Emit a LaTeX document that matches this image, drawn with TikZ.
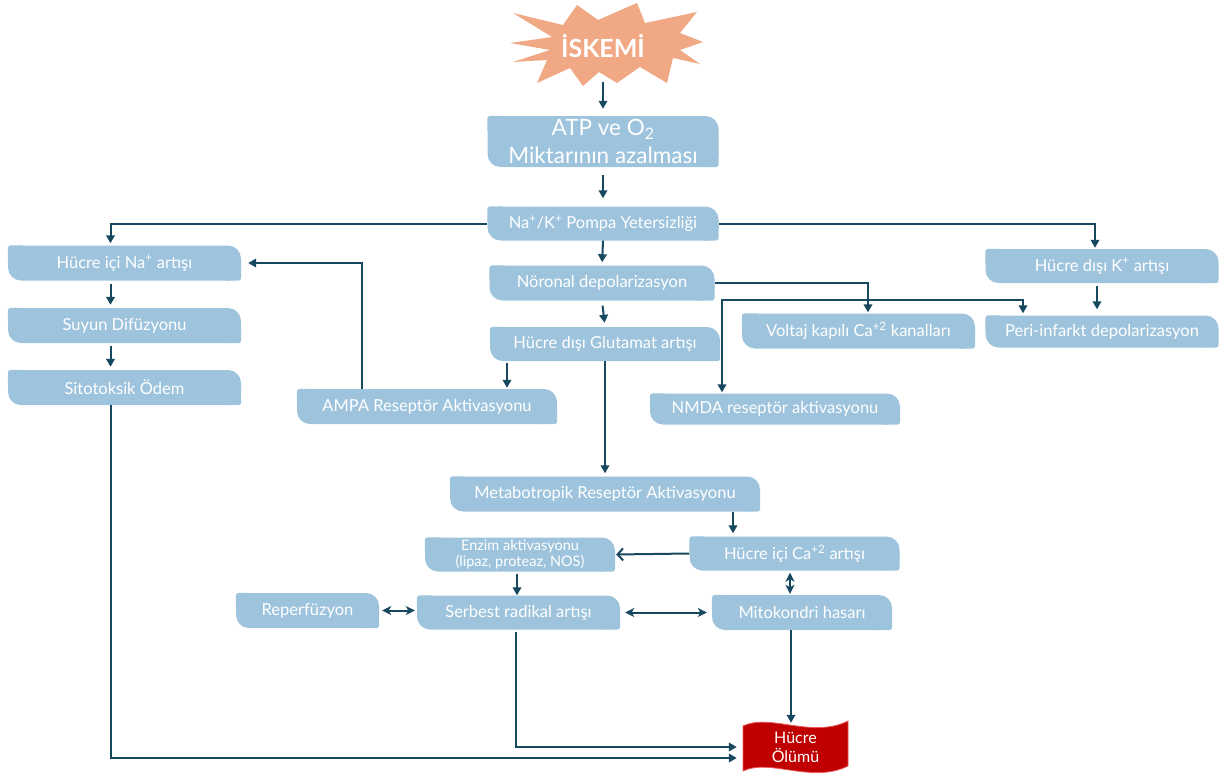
\documentclass[tikz,border=0pt]{standalone}
\usepackage{fontspec}
\setmainfont{Lato}
\usetikzlibrary{arrows.meta,backgrounds,calc}
\definecolor{boxblue}{RGB}{158,196,221}
\definecolor{arrcol}{RGB}{22,72,96}
\definecolor{starcol}{RGB}{241,168,132}
\definecolor{deathred}{RGB}{192,0,0}
\definecolor{deathedge}{RGB}{232,90,90}
\begin{document}
\begin{tikzpicture}[x=1pt,y=-1pt,
  bbox/.style={fill=boxblue, rounded corners=13pt, text=white, inner sep=0pt,
    font=\fontsize{16.5}{19}\selectfont, align=center},
  arr/.style={draw=arrcol, line width=2pt, -{Triangle[length=8pt,width=8.5pt]}},
  dbl/.style={draw=arrcol, line width=2pt, {Stealth[length=9pt,width=9pt,inset=2.5pt]}-{Stealth[length=9pt,width=9pt,inset=2.5pt]}},
  both/.style={draw=arrcol, line width=2pt, {Triangle[length=8pt,width=8.5pt]}-{Triangle[length=8pt,width=8.5pt]}},
  openarr/.style={draw=arrcol, line width=2pt, -{Straight Barb[length=5.5pt,width=12pt]}},
  patch/.style={fill=boxblue, rounded corners=3pt}
]
\useasboundingbox (0,0) rectangle (1230,776);

% star
\fill[starcol] (510,43) -- (552,37) -- (513,13) -- (563,25) -- (577,5) -- (598,20) -- (637,3) -- (645,23) -- (697,12) -- (680,33) -- (703,42) -- (680,50) -- (700,64) -- (673,58) -- (667,83) -- (640,67) -- (617,83) -- (599,72) -- (583,86) -- (570,68) -- (537,83) -- (547,60) -- (513,62) -- (550,50) -- cycle;
\node[text=white, font=\fontsize{25}{28}\selectfont\bfseries] (isk) at (603,46) {İSKEMİ};
\coordinate (starbot) at (603,82);

% boxes
\node[bbox, minimum width=231pt, minimum height=51pt, font=\fontsize{22.5}{28}\selectfont] (atp) at (603,141.5) {ATP ve O\textsubscript{2}\\Miktarının azalması};
\node[bbox, minimum width=231pt, minimum height=34pt] (nak) at (603,223.5) {Na\textsuperscript{+}/K\textsuperscript{+} Pompa Yetersizliği};
\node[bbox, minimum width=233pt, minimum height=35pt] (na) at (124.5,263) {Hücre içi Na\textsuperscript{+} artışı};
\node[bbox, minimum width=233pt, minimum height=35pt] (su) at (124.5,325.5) {Suyun Difüzyonu};
\node[bbox, minimum width=233pt, minimum height=35pt] (sito) at (124.5,387.5) {Sitotoksik Ödem};
\node[bbox, minimum width=225pt, minimum height=35pt] (noron) at (602,283) {Nöronal depolarizasyon};
\node[bbox, minimum width=230pt, minimum height=34pt] (glu) at (605,344) {Hücre dışı Glutamat artışı};
\node[bbox, minimum width=260pt, minimum height=35pt] (ampa) at (427,406.5) {AMPA Reseptör Aktivasyonu};
\node[bbox, minimum width=233pt, minimum height=35pt] (volt) at (858.5,331) {Voltaj kapılı Ca\textsuperscript{+2} kanalları};
\node[bbox, minimum width=233pt, minimum height=34pt] (kdis) at (1102,266) {Hücre dışı K\textsuperscript{+} artışı};
\node[bbox, minimum width=233pt, minimum height=32pt] (peri) at (1102,331.5) {Peri-infarkt depolarizasyon};
\node[bbox, minimum width=250pt, minimum height=31pt] (nmda) at (775,409) {NMDA reseptör aktivasyonu};
\node[bbox, minimum width=310pt, minimum height=35pt] (meta) at (605,494) {Metabotropik Reseptör Aktivasyonu};
\node[bbox, minimum width=210pt, minimum height=34pt] (ca) at (794.5,553.5) {Hücre içi Ca\textsuperscript{+2} artışı};
\node[bbox, minimum width=190pt, minimum height=34pt, font=\fontsize{14.5}{16}\selectfont] (enz) at (520,554.5) {Enzim aktivasyonu\\(lipaz, proteaz, NOS)};
\node[bbox, minimum width=203pt, minimum height=34pt] (serb) at (518.5,612.5) {Serbest radikal artışı};
\node[bbox, minimum width=143pt, minimum height=35pt] (rep) at (307.5,610.5) {Reperfüzyon};
\node[bbox, minimum width=180pt, minimum height=35pt] (mito) at (802,612.5) {Mitokondri hasarı};

\begin{scope}[on background layer]
\foreach \n in {atp,nak,na,su,sito,noron,glu,ampa,volt,kdis,peri,nmda,meta,ca,enz,serb,rep,mito}{
  \fill[patch] (\n.north west) rectangle ++(17pt,-17pt);
  \fill[patch] (\n.south east) rectangle ++(-17pt,17pt);
}
\end{scope}

% cell death
\fill[deathred, draw=deathedge, line width=0.8pt] (743,726) .. controls (770,713) and (812,739) .. (848,721) -- (848,766) .. controls (812,784) and (770,758) .. (743,771) -- cycle;
\node[text=white, font=\fontsize{16}{19}\selectfont, align=center, minimum width=105pt, minimum height=46pt, inner sep=0pt] (olum) at (795.5,747) {Hücre\\Ölümü};

% connectors
\draw[arr, shorten >=7pt] (starbot) -- (atp.north);
\draw[arr, shorten <=8pt, shorten >=8pt] (atp.south) -- (nak.north);
\draw[arr, shorten >=3pt] (nak.south) -- (noron.north);
\draw[arr, shorten >=2pt] (nak.west) -| ([xshift=-14pt]na.north);
\draw[arr, shorten >=1pt] (nak.east) -| ([xshift=-7pt]kdis.north);
\draw[arr, shorten <=3pt, shorten >=3pt] ([xshift=-14pt]na.south) -- ([xshift=-14pt]su.north);
\draw[arr, shorten <=3pt, shorten >=3pt] ([xshift=-14pt]su.south) -- ([xshift=-14pt]sito.north);
\draw[arr, shorten >=6pt] ([xshift=-14pt]sito.south) |- ([yshift=-11pt]olum.west);
\draw[arr, shorten <=2pt, shorten >=6pt] ([xshift=-3pt]serb.south) |- (olum.west);
\draw[arr, shorten >=1pt] (mito.south -| 791,0) -- (olum.north -| 791,0);
\draw[arr, shorten <=5pt, shorten >=4pt] (noron.south) -- (glu.north);
\draw[arr, shorten <=2pt, shorten >=1pt] (glu.south -| 507,0) -- (ampa.north -| 507,0);
\draw[arr, shorten >=3pt] (glu.south) -- (meta.north);
\draw[arr, shorten >=7pt] (ampa.north -| 362,0) |- (na.east);
\draw[arr, shorten >=1pt] (noron.east) -| (volt.north -| 868,0);
\draw[both, shorten <=1pt, shorten >=2pt] (nmda.north -| 722,0) -- (722,300) -| (peri.north -| 1023,0);
\draw[arr, shorten <=3pt, shorten >=6pt] (kdis.south -| 1097,0) -- (peri.north -| 1097,0);
\draw[arr, shorten >=3pt] (meta.south -| 733,0) -- (ca.north -| 733,0);
\draw[openarr, shorten >=1pt] (ca.west) -- (enz.east);
\draw[arr, shorten <=2pt] (enz.south -| 517,0) -- (serb.north -| 517,0);
\draw[dbl, shorten <=3pt, shorten >=2pt] (rep.east) -- (rep.east -| serb.west);
\draw[dbl, shorten <=5pt, shorten >=5pt] (serb.east) -- (serb.east -| mito.west);
\draw[dbl, shorten <=2pt, shorten >=1pt] (ca.south -| 790,0) -- (mito.north -| 790,0);
\end{tikzpicture}
\end{document}
